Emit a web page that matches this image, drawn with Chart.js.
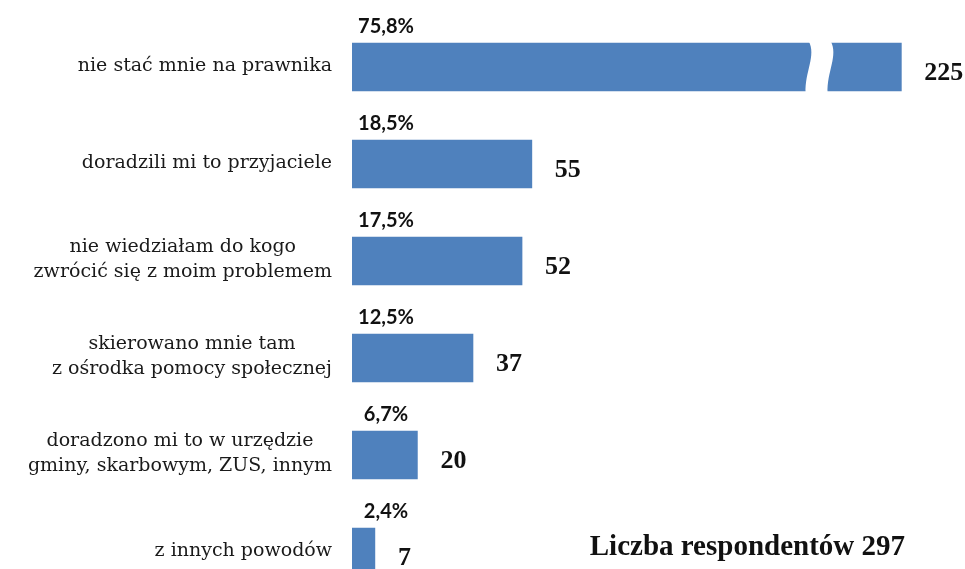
<!DOCTYPE html>
<html>
<head>
<meta charset="utf-8">
<script src="https://cdn.jsdelivr.net/npm/chart.js@4"></script>
<style>
html,body{margin:0;padding:0;background:#fff;overflow:hidden;}
#wrap{position:relative;width:965px;height:605px;}
</style>
</head>
<body>
<div id="wrap"><canvas id="c"></canvas></div>
<script>
// ---- data ----
const categories = [
  ['nie stać mnie na prawnika'],
  ['doradzili mi to przyjaciele'],
  ['nie wiedziałam do kogo', 'zwrócić się z moim problemem'],
  ['skierowano mnie tam', 'z ośrodka pomocy społecznej'],
  ['doradzono mi to w urzędzie', 'gminy, skarbowym, ZUS, innym'],
  ['z innych powodów']
];
const counts = [225, 55, 52, 37, 20, 7];
const percents = [75.8, 18.5, 17.5, 12.5, 6.7, 2.4];
const totalRespondents = 297;
const footnote = 'Liczba respondentów ' + totalRespondents;

// broken axis: values beyond breakAt are shortened by cutSize
const breakAt = 143;
const cutSize = 57;
const displayValues = counts.map(v => v > breakAt + cutSize ? v - cutSize : v);

const BAR_COLOR = '#4F81BD';
const LABEL_FONT = '19px "DejaVu Serif"';
const PCT_FONT = 'bold 20px Lato';
const COUNT_FONT = 'bold 26px "Liberation Serif"';
const FOOT_FONT = 'bold 29px "Liberation Serif"';

const overlay = {
  id: 'overlay',
  afterDatasetsDraw(chart) {
    const ctx = chart.ctx;
    const meta = chart.getDatasetMeta(0);
    const xs = chart.scales.x;
    const area = chart.chartArea;
    ctx.save();
    meta.data.forEach((el, i) => {
      const h = el.height;
      // break mark
      if (counts[i] > breakAt + cutSize) {
        const px = xs.getPixelForValue(breakAt);
        const top = el.y - h / 2 - 2, bot = el.y + h / 2 + 2;
        const w = 22;
        ctx.fillStyle = '#ffffff';
        ctx.beginPath();
        ctx.moveTo(px - 11, top);
        ctx.bezierCurveTo(px - 3, top + h * 0.3, px - 15, top + h * 0.65, px - 14, bot);
        ctx.lineTo(px - 14 + w, bot);
        ctx.bezierCurveTo(px - 15 + w, top + h * 0.65, px - 3 + w, top + h * 0.3, px - 11 + w, top);
        ctx.closePath();
        ctx.fill();
      }
      // percent label
      ctx.fillStyle = '#111';
      ctx.font = PCT_FONT;
      ctx.textAlign = 'center';
      ctx.textBaseline = 'alphabetic';
      ctx.fillText(percents[i].toFixed(1).replace('.', ',') + '%', area.left + 34, el.y - h / 2 - 10);
      // count label
      ctx.font = COUNT_FONT;
      ctx.textAlign = 'left';
      ctx.textBaseline = 'middle';
      ctx.fillText(String(counts[i]), el.x + 23, el.y + 6);
      // category label
      const lines = categories[i];
      ctx.font = LABEL_FONT;
      ctx.fillStyle = '#1a1a1a';
      const maxW = Math.max(...lines.map(l => ctx.measureText(l).width));
      const cx = area.left - 20 - maxW / 2;
      const lh = 25;
      ctx.textAlign = 'center';
      ctx.textBaseline = 'middle';
      lines.forEach((l, k) => {
        const y = el.y + (k - (lines.length - 1) / 2) * lh - 1;
        ctx.fillText(l, cx, y);
      });
    });
    // footnote
    ctx.font = FOOT_FONT;
    ctx.fillStyle = '#111';
    ctx.textAlign = 'right';
    ctx.textBaseline = 'middle';
    ctx.fillText(footnote, 905, 548);
    ctx.restore();
  }
};

new Chart(document.getElementById('c'), {
  type: 'bar',
  data: {
    labels: categories,
    datasets: [{
      data: displayValues,
      backgroundColor: BAR_COLOR,
      borderWidth: 0,
      barThickness: 48
    }]
  },
  options: {
    indexAxis: 'y',
    responsive: true,
    maintainAspectRatio: false,
    animation: false,
    events: [],
    layout: { padding: { left: 352, right: 24.4, top: 18.5, bottom: 4.5 } },
    plugins: { legend: { display: false }, tooltip: { enabled: false } },
    scales: {
      x: { display: false, min: 0, max: 180 },
      y: { display: false, offset: true, grid: { display: false } }
    }
  },
  plugins: [overlay]
});
</script>
</body>
</html>
